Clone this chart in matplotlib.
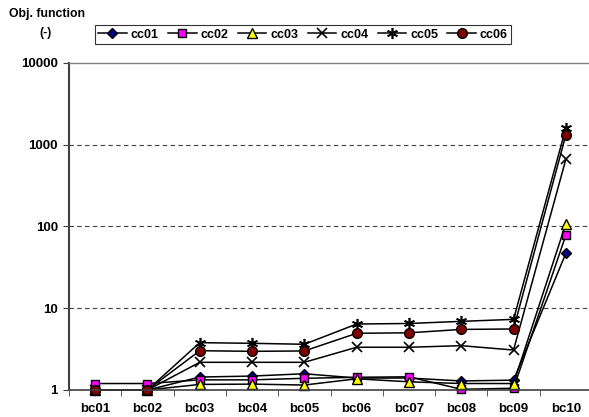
import matplotlib
matplotlib.use("Agg")
import matplotlib.pyplot as plt
from matplotlib.ticker import FixedLocator, NullLocator

plt.rcParams['font.family'] = ['Liberation Sans', 'DejaVu Sans']
plt.rcParams['font.weight'] = 'bold'

categories = ["bc01", "bc02", "bc03", "bc04", "bc05", "bc06", "bc07", "bc08", "bc09", "bc10"]
cc01 = [1.0, 1.0, 1.44, 1.48, 1.58, 1.40, 1.40, 1.29, 1.32, 47.0]
cc02 = [1.2, 1.2, 1.33, 1.33, 1.39, 1.43, 1.45, 1.02, 1.05, 78.0]
cc03 = [1.0, 1.0, 1.17, 1.18, 1.15, 1.37, 1.26, 1.20, 1.20, 108.0]
cc04 = [1.0, 1.0, 2.18, 2.18, 2.18, 3.33, 3.33, 3.48, 3.08, 660.0]
cc05 = [1.0, 1.0, 3.79, 3.72, 3.62, 6.4, 6.5, 6.9, 7.3, 1590.0]
cc06 = [1.0, 1.0, 3.02, 2.97, 3.00, 4.93, 5.0, 5.5, 5.57, 1310.0]
series_names = ["cc01", "cc02", "cc03", "cc04", "cc05", "cc06"]
y_ticks = [1, 10, 100, 1000, 10000]
y_tick_labels = ["1", "10", "100", "1000", "10000"]

fig = plt.figure(figsize=(5.89, 4.17), dpi=100)
ax = fig.add_axes([69/589, 1-390/417, (592-69)/589, (390-62.7)/417])

x = list(range(len(categories)))
styles = [
    dict(marker='D', markerfacecolor='#000080', markersize=5),
    dict(marker='s', markerfacecolor='#FF00FF', markersize=6),
    dict(marker='^', markerfacecolor='#FFFF00', markersize=6.5),
    dict(marker='x', markerfacecolor='black', markersize=7, markeredgewidth=1.2),
    dict(marker=(6, 2, 0), markerfacecolor='black', markersize=8, markeredgewidth=1.2),
    dict(marker='o', markerfacecolor='#800000', markersize=7),
]
data = [cc01, cc02, cc03, cc04, cc05, cc06]
for name, vals, st in zip(series_names, data, styles):
    ax.plot(x, vals, color='black', linewidth=1.1, markeredgecolor='black',
            label=name, clip_on=False, **st)

ax.set_yscale('log')
ax.set_ylim(1, 10000)
ax.set_xlim(-0.5, 9.5)
ax.yaxis.set_major_locator(FixedLocator(y_ticks))
ax.set_yticklabels(y_tick_labels)
ax.yaxis.set_minor_locator(NullLocator())
ax.set_xticks(x)
ax.set_xticklabels(categories)
ax.set_xticks([i + 0.5 for i in range(-1, 10)], minor=True)
ax.tick_params(axis='x', which='major', length=0, pad=9, labelsize=9.5)
ax.tick_params(axis='x', which='minor', length=4, direction='out', color='#404040')
ax.tick_params(axis='y', which='major', length=4, direction='out', labelsize=9.5, color='#404040', pad=4)
for lbl in ax.get_xticklabels() + ax.get_yticklabels():
    lbl.set_fontweight('bold')

for v in [10, 100, 1000]:
    ax.axhline(v, color='#404040', linestyle=(0, (4, 3)), linewidth=0.8, zorder=0)

ax.spines['top'].set_color('#808080')
ax.spines['top'].set_linewidth(1.0)
ax.spines['left'].set_color('#404040')
ax.spines['left'].set_linewidth(1.5)
ax.spines['bottom'].set_color('#404040')
ax.spines['bottom'].set_linewidth(1.2)
ax.spines['right'].set_visible(False)

fig.text(47/589, 1-14/417, "Obj. function", ha='center', va='center', fontsize=8.8, fontweight='bold')
fig.text(46/589, 1-33/417, "(-)", ha='center', va='center', fontsize=8.8, fontweight='bold')

leg = fig.legend(loc='center', bbox_to_anchor=(303/589, 1-34.5/417), ncol=6,
                 frameon=True, fancybox=False, edgecolor='black', fontsize=9,
                 handlelength=2.3, handletextpad=0.3, columnspacing=0.75,
                 borderpad=0.25, borderaxespad=0)
leg.get_frame().set_linewidth(0.8)
for t in leg.get_texts():
    t.set_fontweight('bold')

fig.savefig("out.png", dpi=100)
